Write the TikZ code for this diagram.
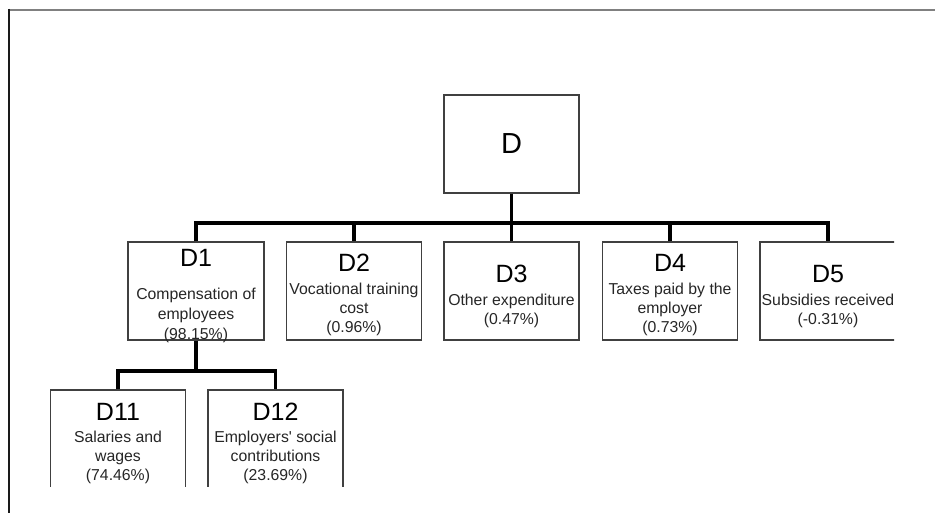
\documentclass[tikz,border=0pt]{standalone}
\usepackage{fontspec}
\setmainfont{Liberation Sans}
\begin{document}
\begin{tikzpicture}[x=1pt,y=-1pt,
  box/.style={draw=boxgray, line width=1.3pt, minimum width=135pt, minimum height=98pt, inner sep=0pt},
  conn/.style={line width=3.6pt, line join=miter, line cap=butt},
  code/.style={font=\fontsize{25}{25}\selectfont, inner sep=0pt},
  topcode/.style={font=\fontsize{29}{29}\selectfont, inner sep=0pt},
  desc/.style={font=\fontsize{15.8}{19}\selectfont, align=center, inner sep=0pt, text=textgray}]
\definecolor{boxgray}{HTML}{404040}
\definecolor{textgray}{HTML}{262626}
\definecolor{framegray}{HTML}{808080}
\definecolor{frameleft}{HTML}{1A1A1A}
\useasboundingbox (0,0) rectangle (935,513);
\fill[white] (0,0) rectangle (935,513);
% frame
\draw[framegray, line width=2pt] (8,10) -- (935,10);
\draw[frameleft, line width=1.5pt] (9,9) -- (9,513);

\begin{scope}
\clip (10,11) rectangle (894,486.5);
% boxes
\node[box] (D)   at (511.5,144) {};
\node[box, minimum width=136pt] (D1) at (196,291) {};
\node[box] (D2)  at (354,291) {};
\node[box] (D3)  at (511.5,291) {};
\node[box] (D4)  at (670,291) {};
\node[box, minimum width=136pt] (D5) at (828,291) {};
\node[box] (D11) at (118,439) {};
\node[box] (D12) at (275.5,439) {};

% texts
\node[topcode] (Dt) at (511.5,144) {D};
\node[code] (D1t) at (196,258) {D1};
\node[desc, font=\fontsize{15.8}{20}\selectfont] (D1d) at (196,315.5) {Compensation of\\employees\\(98.15\%)};
\node[code] (D2t) at (354,263) {D2};
\node[desc] (D2d) at (354,309.5) {Vocational training\\cost\\(0.96\%)};
\node[code] (D3t) at (511.5,274) {D3};
\node[desc] (D3d) at (511.5,311) {Other expenditure\\(0.47\%)};
\node[code] (D4t) at (670,263) {D4};
\node[desc] (D4d) at (670,309.5) {Taxes paid by the\\employer\\(0.73\%)};
\node[code] (D5t) at (828,274) {D5};
\node[desc] (D5d) at (828,311) {Subsidies received\\(-0.31\%)};
\node[code] (D11t) at (118,412) {D11};
\node[desc] (D11d) at (118,457.5) {Salaries and\\wages\\(74.46\%)};
\node[code] (D12t) at (275.5,412) {D12};
\node[desc] (D12d) at (275.5,457.5) {Employers\textquotesingle{} social\\contributions\\(23.69\%)};

% connectors
\coordinate (b0) at (511.5,223);
\coordinate (b1) at (196,371);
\draw[conn] (D.south) -- (b0);
\draw[conn] (D1.north) -- (D1.north |- b0) -- (D5.north |- b0) -- (D5.north);
\draw[conn] (D2.north) -- (D2.north |- b0);
\draw[conn] (D3.north) -- (D3.north |- b0);
\draw[conn] (D4.north) -- (D4.north |- b0);
\draw[conn] (D1.south) -- (b1);
\draw[conn] (D11.north) -- (D11.north |- b1) -- (D12.north |- b1) -- (D12.north);
\end{scope}
\end{tikzpicture}
\end{document}
